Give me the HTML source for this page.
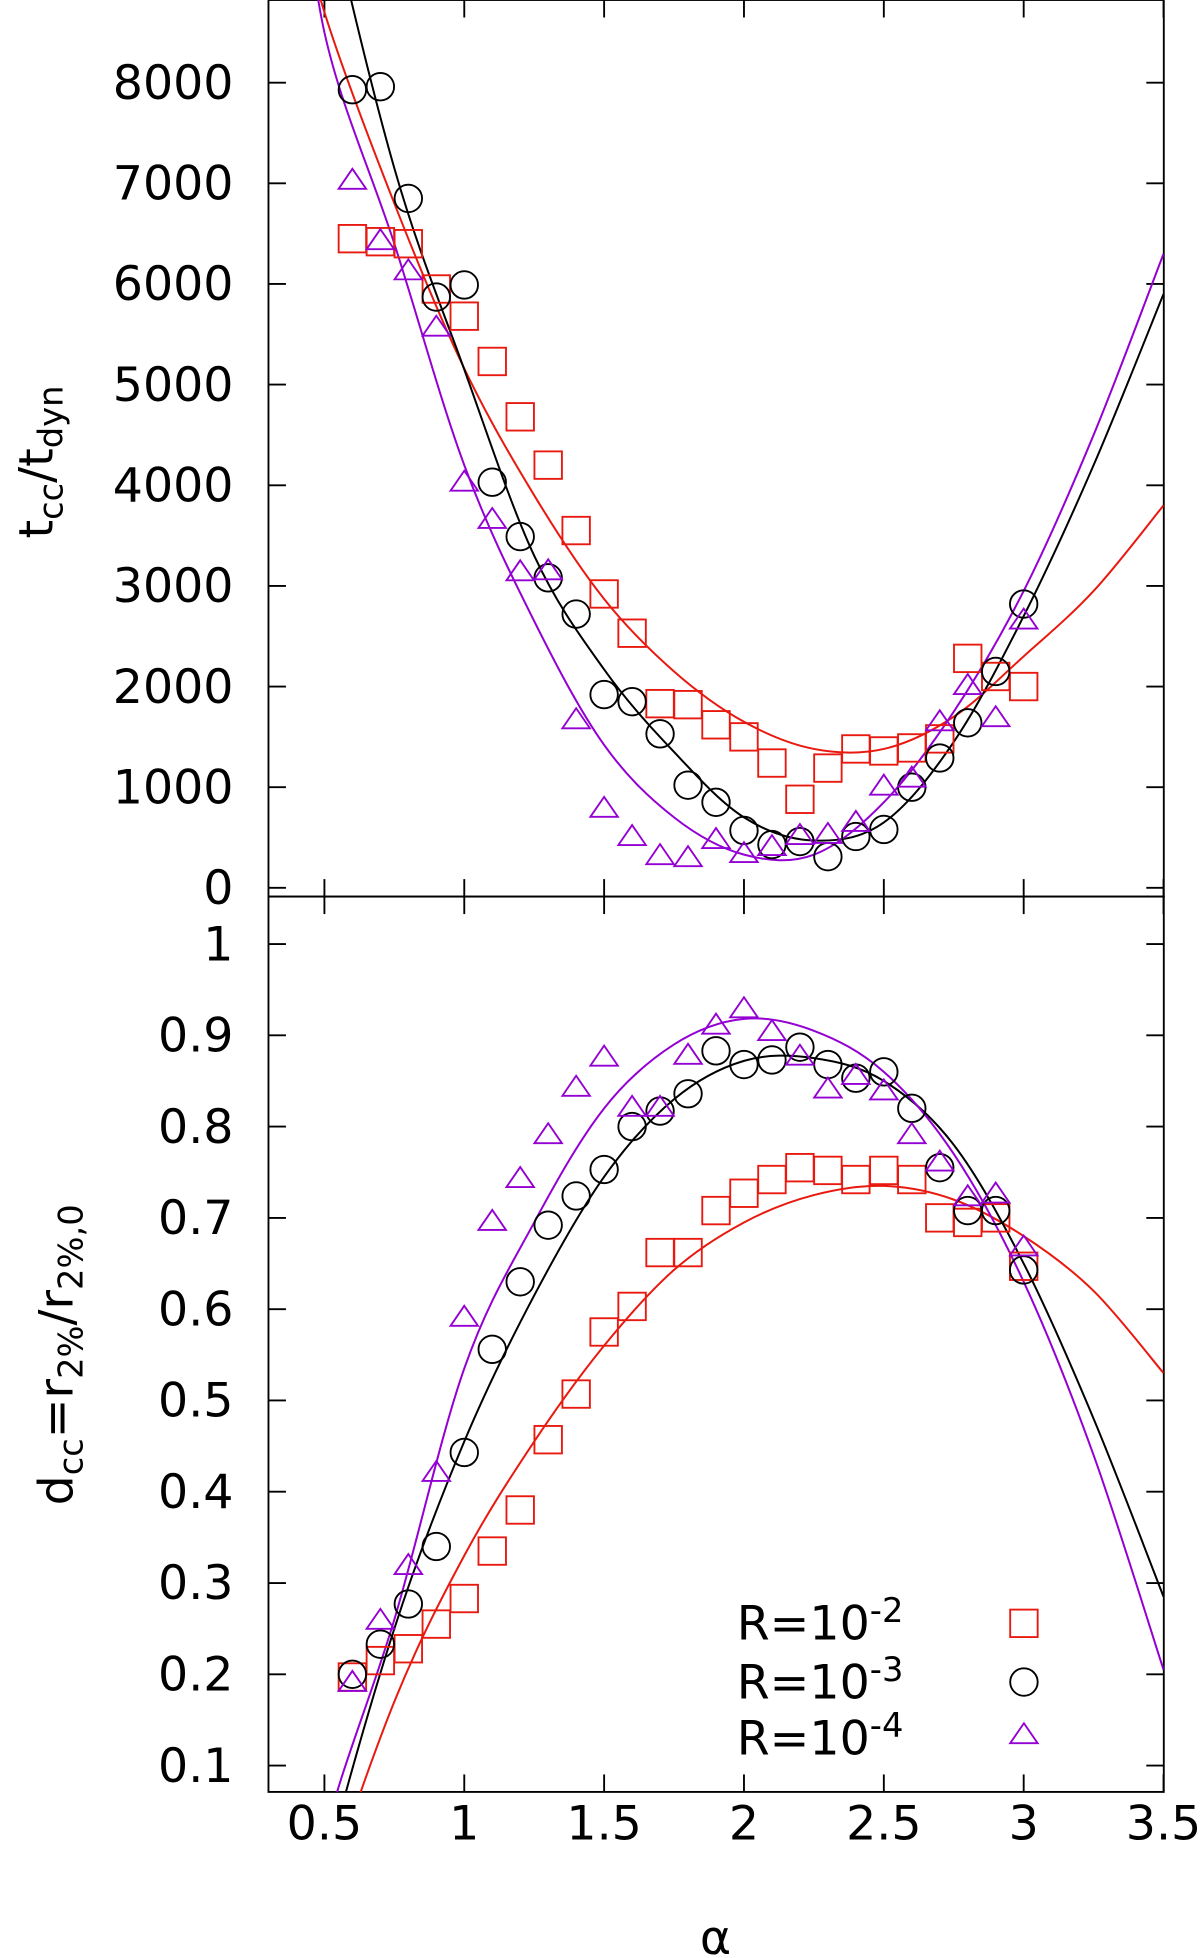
<!DOCTYPE html>
<html><head><meta charset="utf-8"><style>
html,body{margin:0;padding:0;background:#fff}
svg{display:block}
text{font-family:"DejaVu Sans","Liberation Sans",sans-serif;fill:#000}
</style></head><body>
<svg id="chart" width="1200" height="1958" viewBox="0 0 961 1568" preserveAspectRatio="none" xmlns="http://www.w3.org/2000/svg">
<defs>
<clipPath id="clipTop"><rect x="215" y="0" width="717" height="718"/></clipPath>
<clipPath id="clipBot"><rect x="215" y="718" width="717" height="717"/></clipPath>
</defs>
<g id="axes"></g>
<g id="topPanel"></g>
<g id="botPanel"></g>
<text transform="translate(42,370) rotate(-90)" text-anchor="middle" font-size="38">t<tspan font-size="27" dy="8">cc</tspan><tspan dy="-8">/t</tspan><tspan font-size="27" dy="8">dyn</tspan></text>
<text transform="translate(58,1085) rotate(-90)" text-anchor="middle" font-size="38">d<tspan font-size="27" dy="8">cc</tspan><tspan dy="-8">=r</tspan><tspan font-size="27" dy="8">2%</tspan><tspan dy="-8">/r</tspan><tspan font-size="27" dy="8">2%,0</tspan></text>
<text x="573" y="1565" text-anchor="middle" font-size="38">α</text>
<g>
<text x="590" y="1313" font-size="38">R=10<tspan font-size="27" dy="-14">-2</tspan></text>
<text x="590" y="1360" font-size="38">R=10<tspan font-size="27" dy="-14">-3</tspan></text>
<text x="590" y="1405" font-size="38">R=10<tspan font-size="27" dy="-14">-4</tspan></text>
<rect x="809" y="1289" width="22" height="22" fill="none" stroke="#e8190f" stroke-width="1.5"/>
<circle cx="820" cy="1347" r="11" fill="none" stroke="#000" stroke-width="1.5"/>
<path d="M820,1380 L831,1396 L809,1396 Z" fill="none" stroke="#9400d3" stroke-width="1.5"/>
</g>
</svg>
<script>
const alphas = [0.6,0.7,0.8,0.9,1.0,1.1,1.2,1.3,1.4,1.5,1.6,1.7,1.8,1.9,2.0,2.1,2.2,2.3,2.4,2.5,2.6,2.7,2.8,2.9,3.0];
const tccR2 = [6450,6420,6400,5950,5680,5230,4680,4200,3550,2920,2530,1830,1820,1620,1500,1240,880,1190,1380,1360,1390,1480,2280,2100,2000];
const tccR3 = [7930,7960,6850,5870,5990,4030,3490,3080,2720,1920,1850,1530,1020,850,570,430,460,310,510,580,1000,1290,1640,2150,2820];
const tccR4 = [7020,6420,6120,5560,4020,3650,3130,3140,1660,780,500,310,290,470,330,400,510,520,640,1000,1080,1640,2000,1680,2650];
const dccR2 = [0.197,0.215,0.228,0.255,0.283,0.335,0.38,0.457,0.507,0.575,0.603,0.662,0.662,0.708,0.727,0.742,0.755,0.752,0.742,0.752,0.742,0.7,0.695,0.7,0.647];
const dccR3 = [0.2,0.233,0.277,0.34,0.443,0.556,0.63,0.692,0.724,0.753,0.8,0.817,0.836,0.883,0.868,0.873,0.887,0.868,0.853,0.86,0.82,0.755,0.708,0.708,0.643];
const dccR4 = [0.19,0.258,0.318,0.42,0.59,0.695,0.742,0.79,0.842,0.875,0.82,0.82,0.877,0.91,0.928,0.903,0.876,0.84,0.855,0.838,0.79,0.76,0.722,0.725,0.667];
const fitX = [0.4,0.5,0.75,1,1.25,1.5,1.75,2,2.25,2.5,2.75,3,3.25,3.5];
const fitTccR2 = [9900,8700,6800,5160,3900,2870,2150,1650,1380,1380,1700,2300,2950,3800];
const fitTccR3 = [11800,10000,7150,5150,3300,2170,1350,700,470,650,1450,2700,4200,5900];
const fitTccR4 = [10800,8500,6400,4200,2650,1420,700,330,330,850,1750,2950,4500,6300];
const fitDccR2 = [-0.19,-0.05,0.17,0.33,0.455,0.56,0.643,0.695,0.725,0.735,0.72,0.68,0.62,0.53];
const fitDccR3 = [-0.2,-0.02,0.25,0.455,0.615,0.745,0.83,0.872,0.875,0.85,0.78,0.65,0.48,0.285];
const fitDccR4 = [-0.2,0.02,0.26,0.535,0.695,0.82,0.89,0.918,0.905,0.86,0.77,0.63,0.44,0.205];
const xTicks = [0.5,1,1.5,2,2.5,3,3.5];
const xTickLabels = ["0.5","1","1.5","2","2.5","3","3.5"];
const topTicks = [0,1000,2000,3000,4000,5000,6000,7000,8000];
const topTickLabels = ["0","1000","2000","3000","4000","5000","6000","7000","8000"];
const botTicks = [0.1,0.2,0.3,0.4,0.5,0.6,0.7,0.8,0.9,1];
const botTickLabels = ["0.1","0.2","0.3","0.4","0.5","0.6","0.7","0.8","0.9","1"];

const NS="http://www.w3.org/2000/svg";
const L=215,R=932,T=0,M=718,B=1435;
function xs(a){return L+(a-0.3)*224;}
function yTop(v){return 711-v*0.0806;}
function yBot(v){return 756+(1-v)*731;}
function mk(tag,attrs,parent){const e=document.createElementNS(NS,tag);for(const k in attrs)e.setAttribute(k,attrs[k]);parent.appendChild(e);return e;}
const RED="#e8190f",BLK="#000",PUR="#9400d3";
const axes=document.getElementById('axes');
let fr=mk('rect',{x:L,y:T,width:R-L,height:M-T,fill:'none',stroke:'#000','stroke-width':1.5},axes);


fr=mk('rect',{x:L,y:M,width:R-L,height:B-M,fill:'none',stroke:'#000','stroke-width':1.5},axes);


xTicks.forEach((v,i)=>{
  const x=xs(v);
  [[T,T+14],[M-14,M+14],[B-14,B]].forEach(p=>{
    const t=mk('line',{x1:x,x2:x,y1:p[0],y2:p[1],stroke:'#000','stroke-width':1.5},axes);
    
    
  });
  const lb=mk('text',{x:x,y:1473,'text-anchor':'middle','font-size':38},axes);
  lb.textContent=xTickLabels[i];
  
  
});
topTicks.forEach((v,i)=>{
  const y=yTop(v);
  [[L,L+14],[R-14,R]].forEach(p=>{
    const t=mk('line',{x1:p[0],x2:p[1],y1:y,y2:y,stroke:'#000','stroke-width':1.5},axes);
    
    
  });
  const lb=mk('text',{x:187,y:y+13,'text-anchor':'end','font-size':38},axes);
  lb.textContent=topTickLabels[i];
  
  
});
botTicks.forEach((v,i)=>{
  const y=yBot(v);
  [[L,L+14],[R-14,R]].forEach(p=>{
    const t=mk('line',{x1:p[0],x2:p[1],y1:y,y2:y,stroke:'#000','stroke-width':1.5},axes);
    
    
  });
  const lb=mk('text',{x:187,y:y+13,'text-anchor':'end','font-size':38},axes);
  lb.textContent=botTickLabels[i];
  
  
});
function curve(xv,yv,yf,color,parent,clip,name){
  const P=xv.map((a,i)=>[xs(a),yf(yv[i])]);
  let d='M'+P[0][0]+','+P[0][1];
  for(let i=0;i<P.length-1;i++){
    const p0=P[Math.max(0,i-1)],p1=P[i],p2=P[i+1],p3=P[Math.min(P.length-1,i+2)];
    const c1=[p1[0]+(p2[0]-p0[0])/6,p1[1]+(p2[1]-p0[1])/6];
    const c2=[p2[0]-(p3[0]-p1[0])/6,p2[1]-(p3[1]-p1[1])/6];
    d+=' C'+c1+' '+c2+' '+p2;
  }
  const e=mk('path',{d:d,fill:'none',stroke:color,'stroke-width':1.6,'clip-path':'url(#'+clip+')'},parent);
  
  
}
function points(vals,yf,kind,color,parent,name){
  vals.forEach((v,i)=>{
    const x=xs(alphas[i]),y=yf(v);let e;
    if(kind==='sq')e=mk('rect',{x:x-11,y:y-11,width:22,height:22,fill:'none',stroke:color,'stroke-width':1.5},parent);
    else if(kind==='ci')e=mk('circle',{cx:x,cy:y,r:11,fill:'none',stroke:color,'stroke-width':1.5},parent);
    else e=mk('path',{d:`M${x},${y-10} L${x+11},${y+6} L${x-11},${y+6} Z`,fill:'none',stroke:color,'stroke-width':1.5},parent);
    
    
  });
}
const topG=document.getElementById('topPanel'),botG=document.getElementById('botPanel');
curve(fitX,fitTccR2,yTop,RED,topG,'clipTop','fit-tcc-r1e-2');
curve(fitX,fitTccR3,yTop,BLK,topG,'clipTop','fit-tcc-r1e-3');
curve(fitX,fitTccR4,yTop,PUR,topG,'clipTop','fit-tcc-r1e-4');
points(tccR2,yTop,'sq',RED,topG,'tcc-point-r1e-2');
points(tccR3,yTop,'ci',BLK,topG,'tcc-point-r1e-3');
points(tccR4,yTop,'tr',PUR,topG,'tcc-point-r1e-4');
curve(fitX,fitDccR2,yBot,RED,botG,'clipBot','fit-dcc-r1e-2');
curve(fitX,fitDccR3,yBot,BLK,botG,'clipBot','fit-dcc-r1e-3');
curve(fitX,fitDccR4,yBot,PUR,botG,'clipBot','fit-dcc-r1e-4');
points(dccR2,yBot,'sq',RED,botG,'dcc-point-r1e-2');
points(dccR3,yBot,'ci',BLK,botG,'dcc-point-r1e-3');
points(dccR4,yBot,'tr',PUR,botG,'dcc-point-r1e-4');
</script>
</body></html>
